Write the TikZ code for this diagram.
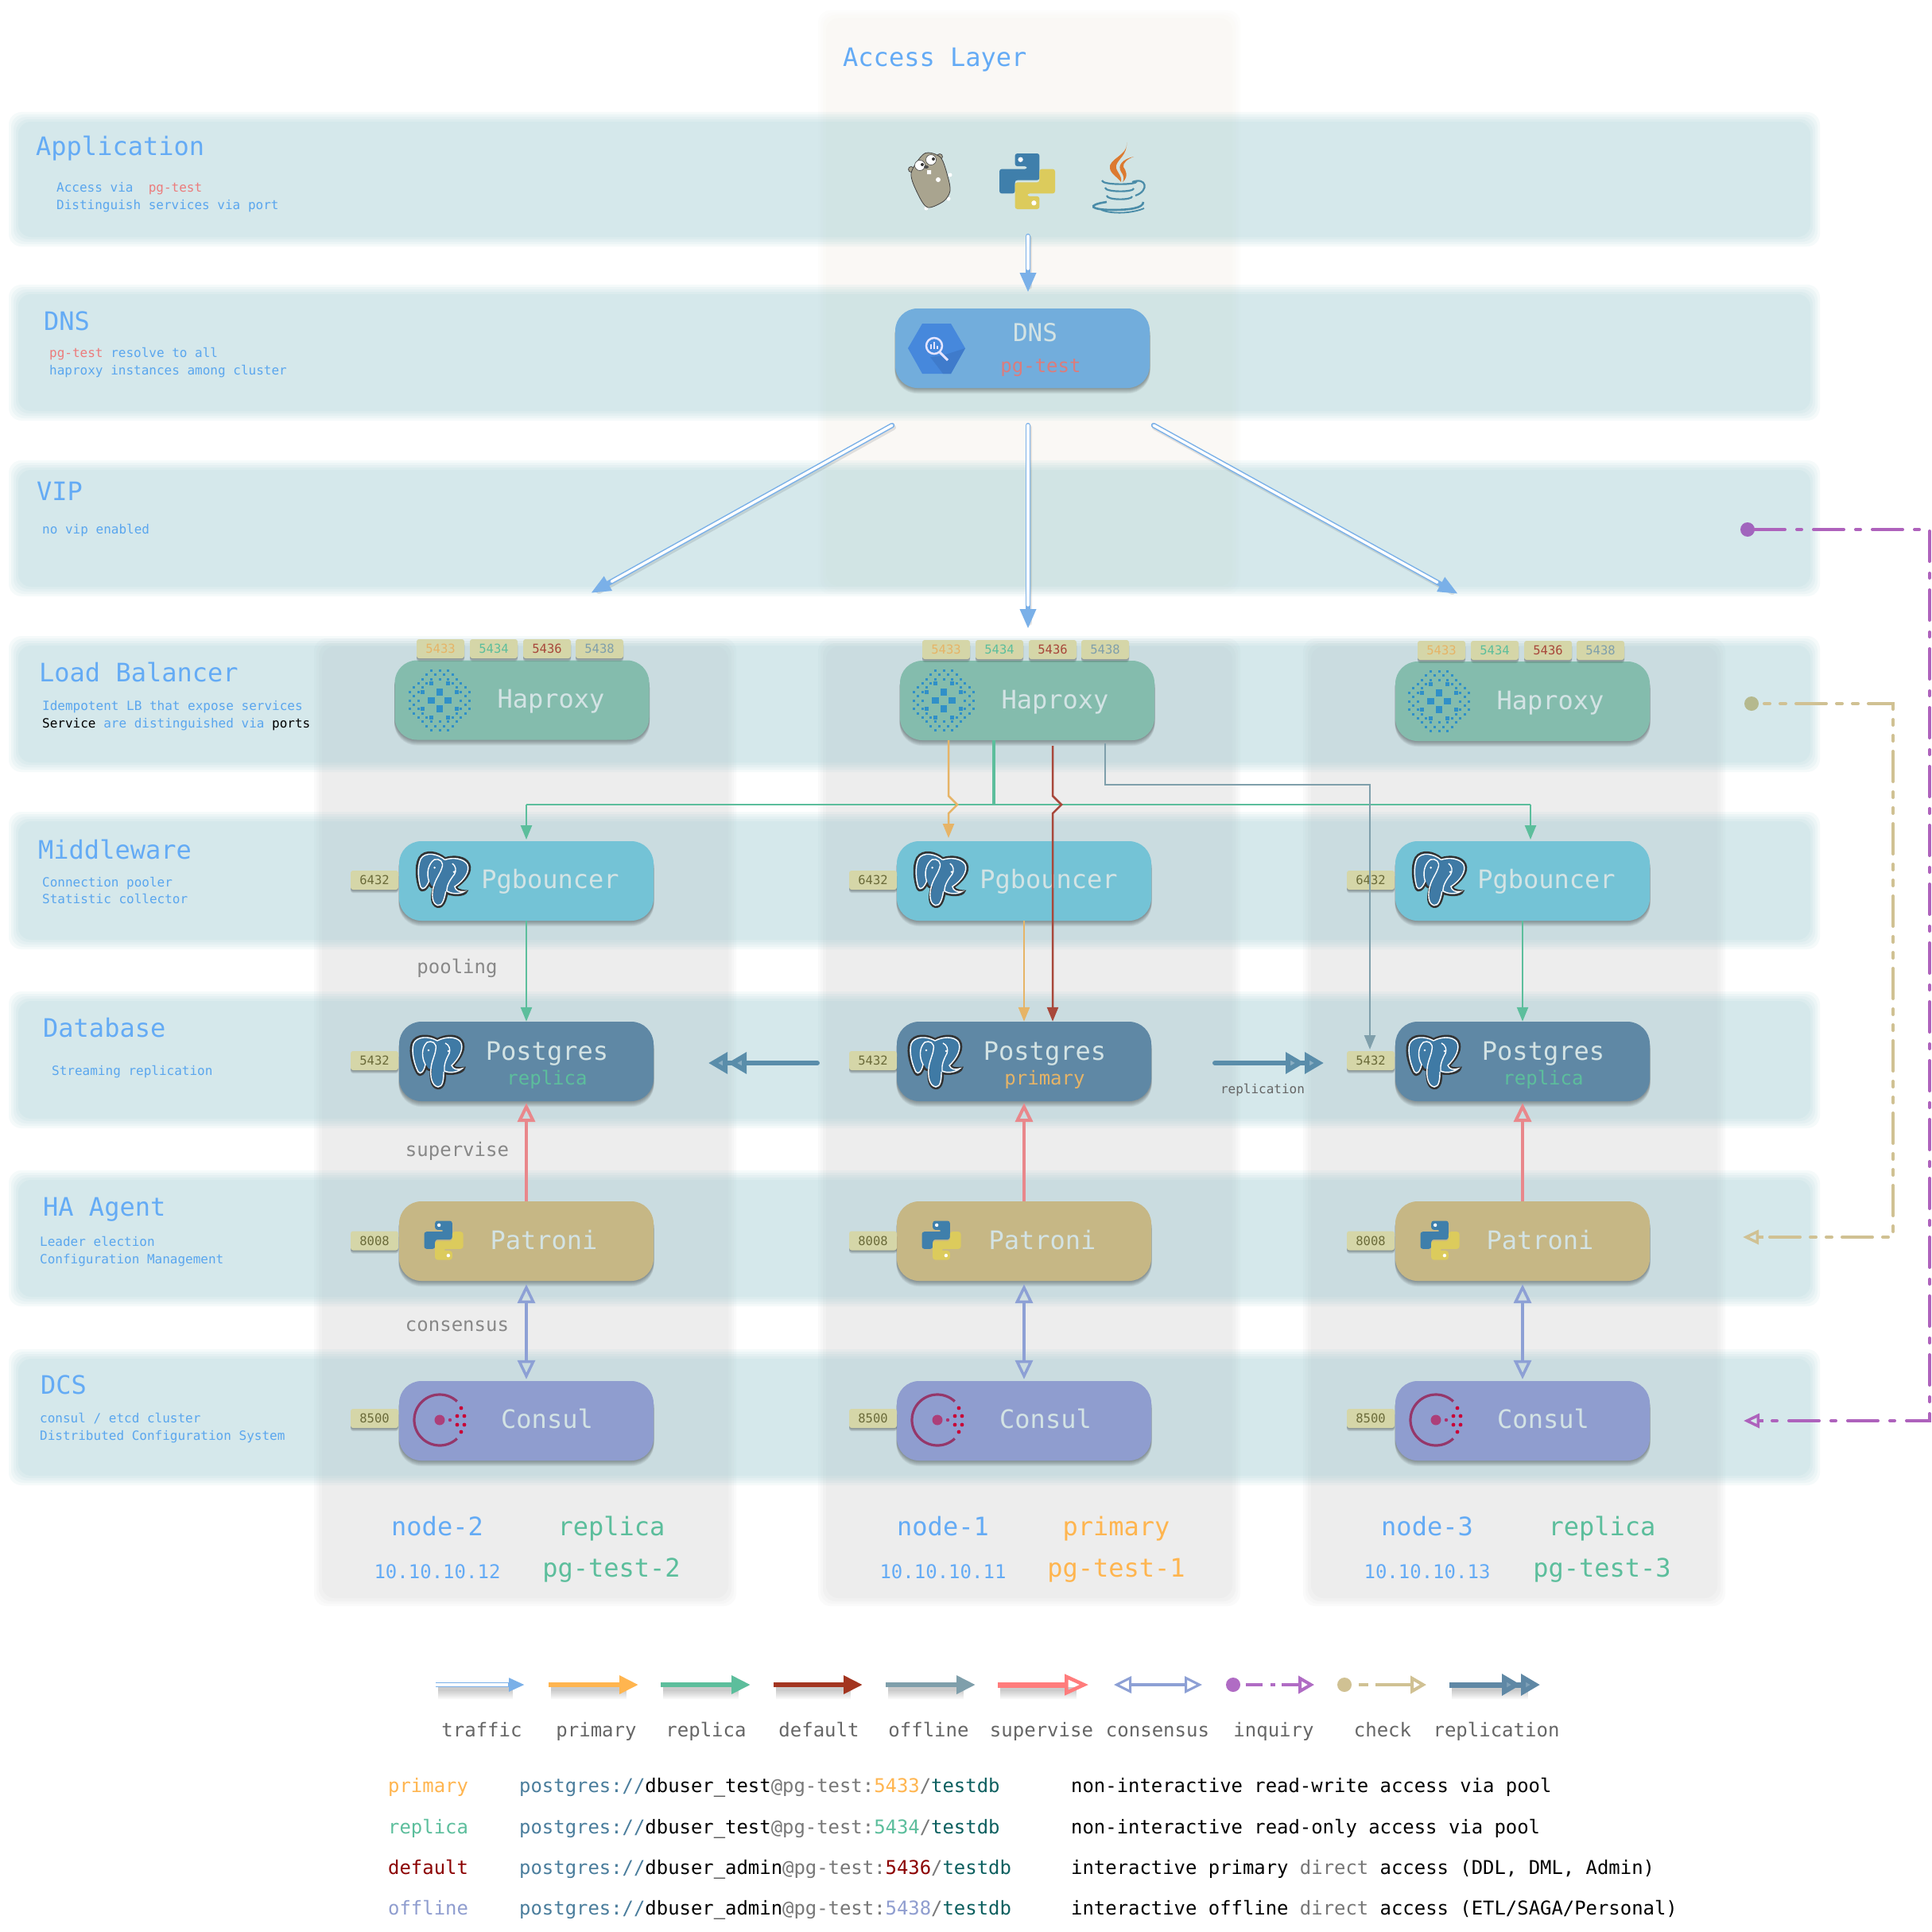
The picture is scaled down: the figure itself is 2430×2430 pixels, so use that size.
\documentclass[tikz,border=0pt]{standalone}
\usepackage{fontspec}
\setmainfont{DejaVu Sans Mono}
\usetikzlibrary{arrows.meta,calc}
\definecolor{tblue}{HTML}{64ABF5}
\definecolor{subblue}{HTML}{5AA6EE}
\definecolor{redtx}{HTML}{EC7C7C}
\definecolor{bandc}{HTML}{91C6CE}
\definecolor{dnsc}{HTML}{72ADDC}
\definecolor{hexc}{HTML}{4688DC}
\definecolor{hexd}{HTML}{3F7BCB}
\definecolor{hapc}{HTML}{84BCAD}
\definecolor{pgbc}{HTML}{74C3D6}
\definecolor{pgc}{HTML}{5F88A5}
\definecolor{patc}{HTML}{C6B785}
\definecolor{conc}{HTML}{8F9DCF}
\definecolor{tagc}{HTML}{D5D6A8}
\definecolor{tagtx}{HTML}{6B6B3A}
\definecolor{nodetx}{HTML}{D3E3E4}
\definecolor{prim}{HTML}{E6B467}
\definecolor{primL}{HTML}{FFB54F}
\definecolor{repl}{HTML}{5CBE9C}
\definecolor{defl}{HTML}{A8473A}
\definecolor{deflL}{HTML}{A33520}
\definecolor{offl}{HTML}{7F9FAB}
\definecolor{superc}{HTML}{E9878B}
\definecolor{superL}{HTML}{FF7C7C}
\definecolor{consc}{HTML}{8DA0D5}
\definecolor{inq}{HTML}{AE62BC}
\definecolor{inqdot}{HTML}{A165BD}
\definecolor{inqL}{HTML}{B06CC4}
\definecolor{chk}{HTML}{D0C193}
\definecolor{chkdot}{HTML}{B5B98E}
\definecolor{repc}{HTML}{5A8DAA}
\definecolor{repL}{HTML}{5F88A5}
\definecolor{trafc}{HTML}{7AB0E8}
\definecolor{greytx}{HTML}{888888}
\definecolor{legtx}{HTML}{666666}
\definecolor{uric}{HTML}{4A7D9C}
\definecolor{dbc}{HTML}{0C5F5F}
\definecolor{urigrey}{HTML}{777777}
\definecolor{darkred}{HTML}{8B0000}
\definecolor{elef}{HTML}{3F7AA5}
\definecolor{pyb}{HTML}{3F7FAB}
\definecolor{pyy}{HTML}{DCCB5C}
\definecolor{haplogo}{HTML}{3090C8}
\definecolor{gopher}{HTML}{A9A48F}
\definecolor{javao}{HTML}{DC7A30}
\definecolor{javab}{HTML}{4A8CA8}
\newcommand\tx[7]{\pgfmathsetmacro\thh{.72*#4}\pgfmathsetmacro\tdd{.2*#4}%
  \node[inner sep=0pt,anchor=#6,text=#5,font=\fontsize{#4}{#4}\selectfont,text height=\thh pt,text depth=\tdd pt] (#1) at (#2,#3+.1*#4) {#7};}
\newcommand\svc[4]{% name cx cy color
  \foreach \k in {1,...,7}{\fill[black,opacity=.05,rounded corners=28pt] (#2-160-.5,#3-44) rectangle (#2+160+.5,#3+50+\k);}
  \node[svcbox,fill=#4] (#1) at (#2,#3) {};}
\newcommand\tagb[5]{% name cx cy textcolor text
  \foreach \k in {1,2,3,4}{\fill[black,opacity=.09,rounded corners=3pt] (#2-30,#3-8) rectangle (#2+30,#3+12+\k);}
  \node[tagbox,text=#4] (#1) at (#2,#3) {#5};}
\newcommand\softrect[6]{% x1 y1 x2 y2 colour opacity
  \foreach \k in {0,...,4}{\fill[fill=#5,fill opacity=#6,rounded corners=16pt] (#1-5+\k*3,#2-5+\k*3) rectangle (#3+5-\k*3,#4+5-\k*3);}}
\newcommand\softopaque[8]{% x1 y1 x2 y2 then four colours, outer to inner
  \fill[fill=#5,rounded corners=16pt] (#1-5,#2-5) rectangle (#3+5,#4+5);
  \fill[fill=#6,rounded corners=16pt] (#1-2,#2-2) rectangle (#3+2,#4+2);
  \fill[fill=#7,rounded corners=16pt] (#1+1,#2+1) rectangle (#3-1,#4-1);
  \fill[fill=#8,rounded corners=16pt] (#1+5,#2+5) rectangle (#3-5,#4-5);}
\definecolor{ac1}{HTML}{FDFDFC}
\definecolor{ac2}{HTML}{FCFBFA}
\definecolor{ac3}{HTML}{FBFAF7}
\definecolor{ac4}{HTML}{FAF8F5}
\definecolor{cc1}{HTML}{FAFAFA}
\definecolor{cc2}{HTML}{F6F6F6}
\definecolor{cc3}{HTML}{F1F1F1}
\definecolor{cc4}{HTML}{EDEDED}
\tikzset{
  svcbox/.style={rectangle,rounded corners=28pt,minimum width=320pt,minimum height=100pt,inner sep=0pt},
  tagbox/.style={rectangle,rounded corners=3pt,fill=tagc,minimum width=60pt,minimum height=24pt,inner sep=0pt,font=\fontsize{15.5}{16}\selectfont},
  trafbase/.style={draw=trafc,line width=6.5pt,line cap=round,-{Triangle[length=25pt,width=19pt]}},
  trafcore/.style={draw=white,line width=3.5pt,line cap=round},
  trafshade/.style={draw=black,opacity=.10,line width=7pt,line cap=round},
  primline/.style={draw=prim,line width=2.5pt,-{Triangle[length=18pt,width=14pt]}},
  replline/.style={draw=repl,line width=2.5pt,-{Triangle[length=18pt,width=14pt]}},
  deflline/.style={draw=defl,line width=2.5pt,-{Triangle[length=18pt,width=14pt]}},
  offline/.style={draw=offl,line width=2.5pt,-{Triangle[length=18pt,width=14pt]}},
  supline/.style={draw=superc,line width=4.5pt,-{Triangle[open,length=24pt,width=22pt,line width=4pt]}},
  conline/.style={draw=consc,line width=4pt,{Triangle[open,length=24pt,width=22pt,line width=3.5pt]}-{Triangle[open,length=24pt,width=22pt,line width=3.5pt]}},
  repline/.style={draw=repc,line width=6pt,line cap=round,-{Triangle[length=24pt,width=26pt,fill=repc!70!white]Triangle[length=24pt,width=26pt,fill=repc!70!white]}},
  inqline/.style={draw=inq,line width=4pt,line cap=round,dash pattern=on 38pt off 15pt on 6pt off 15pt},
  chkline/.style={draw=chk,line width=4pt,line cap=round,dash pattern=on 7pt off 13pt on 7pt off 13pt on 38pt off 13pt},
  pgele/.pic={
    \begin{scope}[shift={(-35,-35)}]
    \filldraw[fill=elef,draw=black!80,line width=2.5pt] (35,7) .. controls (25,1) and (8,0) .. (3,12) .. controls (-1,24) and (5,42) .. (10,50) .. controls (14,55) and (19,50) .. (21,42) .. controls (23,46) and (25,46) .. (27,46) .. controls (26,56) and (27,68) .. (36,69) .. controls (44,69) and (45,58) .. (45,50) .. controls (52,52) and (68,50) .. (69,43) .. controls (60,44) and (56,43) .. (55,40) .. controls (64,32) and (72,18) .. (66,9) .. controls (60,0) and (44,2) .. (35,7) -- cycle;
    \draw[white,line width=1.4pt] (35,9) .. controls (25,3) and (9,3) .. (5,13) .. controls (2,24) and (7,41) .. (11,48) .. controls (14,52) and (18,48) .. (20,39) .. controls (15,30) and (15,18) .. (22,11) .. controls (28,8) and (35,12) .. (33,20) .. controls (32,28) and (28,34) .. (27,44) .. controls (26,54) and (28,66) .. (36,67) .. controls (42,67) and (43,58) .. (43,48);
    \draw[white,line width=1.4pt] (35,9) .. controls (44,4) and (58,3) .. (64,10) .. controls (69,18) and (63,31) .. (53,40) .. controls (55,45) and (60,46) .. (66,44) .. controls (60,49) and (50,50) .. (44,47) .. controls (43,40) and (46,32) .. (50,25) .. controls (52,20) and (50,14) .. (45,12);
    \fill[white] (24,21) circle[radius=1.4] (49,22) circle[radius=1.4];
    \end{scope}},
  pyl/.pic={
    \begin{scope}[shift={(-50,-50)}]
    \fill[pyb,rounded corners=3pt] (28,0) -- (72,0) -- (72,48) -- (28,48) -- (28,72) -- (0,72) -- (0,28) -- (50,28) -- (50,23) -- (28,23) -- cycle;
    \fill[pyy,rounded corners=3pt] (72,100) -- (28,100) -- (28,52) -- (72,52) -- (72,28) -- (100,28) -- (100,72) -- (50,72) -- (50,77) -- (72,77) -- cycle;
    \fill[white] (38,11) circle[radius=4.5] (62,89) circle[radius=4.5];
    \end{scope}},
  haplg/.pic={
    \foreach \i in {-8,...,8}{\foreach \j in {-8,...,8}{
      \pgfmathsetmacro\rr{sqrt(\i*\i+\j*\j)*5.35}
      \pgfmathsetmacro\sz{\rr<25 ? ((mod(abs(\i),2)==0 && mod(abs(\j),2)==0 && mod(abs(\i+\j),4)==2) ? (\rr<11 ? 8.5 : 5.5) : 0) : ((\rr<=41 && mod(abs(\i+\j),2)==1) ? 3 : 0)}
      \ifdim\sz pt>0pt
        \fill[haplogo] ({\i*5.35-\sz/2},{\j*5.35-\sz/2}) rectangle ++(\sz,\sz);
      \fi
    }}},
  conlg/.pic={
    \draw[line width=3.2pt,draw=black!20!purple!65!conc] (47:32) arc[start angle=47,end angle=313,radius=32];
    \fill[purple!60!conc] (0,0) circle[radius=6.5];
    \fill[purple!70!conc] (13,0) circle[radius=2.2];
    \foreach \a/\b in {27/-15,22/-5,31/-5,22/6,31/6,27/15}{\fill[purple!85!red] (\a,\b) circle[radius=2.4];}
  },
}
\begin{document}
\begin{tikzpicture}[x=1pt,y=-1pt]
\useasboundingbox (0,0) rectangle (2430,2430);
\fill[white] (0,0) rectangle (2430,2430);
% backgrounds
\softopaque{1034}{18}{1555}{742}{ac1}{ac2}{ac3}{ac4}
\softopaque{400}{808}{921}{2015}{cc1}{cc2}{cc3}{cc4}
\softopaque{1034}{808}{1555}{2015}{cc1}{cc2}{cc3}{cc4}
\softopaque{1644}{808}{2165}{2015}{cc1}{cc2}{cc3}{cc4}
\foreach \a/\b in {146/305,363/524,584/745,805/966,1026/1189,1252/1414,1477/1638,1702/1863}{\softrect{16}{\a}{2284}{\b}{bandc}{.085}}
% band titles
\tx{tAccess}{1060}{72}{32}{tblue}{west}{Access Layer}
\tx{tApp}{45}{184}{32}{tblue}{west}{Application}
\tx{tDns}{55}{404}{32}{tblue}{west}{DNS}
\tx{tVip}{46}{618}{32}{tblue}{west}{VIP}
\tx{tLb}{49}{846}{32}{tblue}{west}{Load Balancer}
\tx{tMw}{48}{1069}{32}{tblue}{west}{Middleware}
\tx{tDb}{54}{1293}{32}{tblue}{west}{Database}
\tx{tHa}{54}{1518}{32}{tblue}{west}{HA Agent}
\tx{tDcs}{51}{1742}{32}{tblue}{west}{DCS}
% band descriptions
\tx{sA1}{71}{236}{16}{subblue}{west}{Access via\ \ \textcolor{redtx}{pg-test}}
\tx{sA2}{71}{258}{16}{subblue}{west}{Distinguish services via port}
\tx{sD1}{62}{444}{16}{subblue}{west}{\textcolor{redtx}{pg-test} resolve to all}
\tx{sD2}{62}{466}{16}{subblue}{west}{haproxy instances among cluster}
\tx{sV}{53}{666}{16}{subblue}{west}{no vip enabled}
\tx{sL1}{53}{888}{16}{subblue}{west}{Idempotent LB that expose services}
\tx{sL2}{53}{910}{16}{subblue}{west}{\textcolor{black}{Service} are distinguished via \textcolor{black}{ports}}
\tx{sM1}{53}{1110}{16}{subblue}{west}{Connection pooler}
\tx{sM2}{53}{1131}{16}{subblue}{west}{Statistic collector}
\tx{sB}{65}{1347}{16}{subblue}{west}{Streaming replication}
\tx{sH1}{50}{1562}{16}{subblue}{west}{Leader election}
\tx{sH2}{50}{1584}{16}{subblue}{west}{Configuration Management}
\tx{sC1}{50}{1784}{16}{subblue}{west}{consul / etcd cluster}
\tx{sC2}{50}{1806}{16}{subblue}{west}{Distributed Configuration System}
% application icons
\begin{scope}
  \filldraw[fill=gopher,draw=black!70,line width=.8pt] (1146,213) circle[radius=3.5] (1182,197) circle[radius=3.5];
  \fill[white] (1165,262) circle[radius=2.5] (1193,250) circle[radius=2.5] (1195,220) circle[radius=2.5];
  \filldraw[fill=gopher,draw=black!75,line width=.8pt] plot[smooth cycle] coordinates {(1163,193) (1183,198) (1192,222) (1195,240) (1187,253) (1167,261) (1155,245) (1146,218)};
  \filldraw[fill=white,draw=black!70,line width=.6pt] (1157,208) circle[radius=6.5] (1171,201) circle[radius=6.5];
  \fill[black!80] (1160,207) circle[radius=2] (1174,200) circle[radius=2];
  \fill[black!70] (1165,210) ellipse[x radius=3,y radius=2];
  \fill[white] (1166,214) rectangle (1171,219) (1180,226) circle[radius=3];
  \pic[scale=.7] at (1292,228) {pyl};
\end{scope}
\begin{scope}
  \path[fill=javao] (1417,179) .. controls (1420,195) and (1393,200) .. (1396,212) .. controls (1398,220) and (1405,222) .. (1410,229) .. controls (1412,220) and (1402,215) .. (1404,208) .. controls (1406,200) and (1418,195) .. (1417,179) -- cycle;
  \path[fill=javao] (1426,197) .. controls (1412,200) and (1405,208) .. (1410,216) .. controls (1414,222) and (1414,225) .. (1412,229) .. controls (1420,222) and (1416,214) .. (1413,210) .. controls (1412,205) and (1418,200) .. (1426,197) -- cycle;
  \foreach \yy/\hw in {227/22,236/18,246/16}{\draw[draw=javab,line width=2.2pt] (1408-\hw,\yy) .. controls (1408-\hw,\yy+6) and (1408+\hw,\yy+6) .. (1408+\hw,\yy+1);}
  \draw[draw=javab,line width=2.6pt] (1392,254) .. controls (1365,258) and (1372,264) .. (1400,264) .. controls (1420,264) and (1438,262) .. (1438,254);
  \draw[draw=javab,line width=1.8pt] (1385,264) .. controls (1400,270) and (1425,268) .. (1439,262);
  \draw[draw=javab,line width=2.2pt] (1424,229) .. controls (1442,222) and (1446,240) .. (1428,246);
\end{scope}
% DNS
\svc{dns}{1286}{438}{dnsc}
\fill[hexc] (1142,438) -- (1160,407) -- (1196,407) -- (1214,438) -- (1196,470) -- (1160,470) -- cycle;
\fill[hexd] (1186,447) -- (1214,438) -- (1196,470) -- (1186,470) -- (1170,449) -- cycle;
\draw[white!90!blue,line width=2.5pt] (1175,435) circle[radius=10];
\draw[white!90!blue,line width=3pt] (1182,443) -- (1192,453);
\draw[white!90!blue,line width=1.6pt] (1171,439) -- (1171,433) (1175,439) -- (1175,430) (1179,439) -- (1179,435);
\tx{dnsL}{1302}{418}{31}{nodetx}{center}{DNS}
\tx{dnsS}{1309}{460}{24}{redtx!85!gray}{center}{pg-test}
% Haproxy
\foreach \nm/\cx/\cy in {hap2/656.5/880.5,hap1/1292/881,hap3/1915/882}{\svc{\nm}{\cx}{\cy}{hapc}}
\foreach \cx/\cy in {553/881,1187/881,1810/882}{\pic at (\cx,\cy) {haplg};}
\foreach \nm/\cx/\cy in {hap2/693/879,hap1/1327/880,hap3/1950/881}{\tx{\nm L}{\cx}{\cy}{32}{nodetx}{center}{Haproxy}}
\foreach \nm/\ox/\oy in {hap2/-636/-1,hap1/0/0,hap3/623/1}{
 \tagb{\nm a}{1190+\ox}{817+\oy}{prim}{5433}
 \tagb{\nm b}{1257+\ox}{817+\oy}{repl}{5434}
 \tagb{\nm c}{1324+\ox}{817+\oy}{defl}{5436}
 \tagb{\nm d}{1390+\ox}{817+\oy}{offl}{5438}
}
% Pgbouncer
\foreach \nm/\cx in {pgb2/662,pgb1/1288,pgb3/1915}{\svc{\nm}{\cx}{1108}{pgbc}}
\foreach \cx in {555,1181,1808}{\pic[rotate=-10] at (\cx,1107) {pgele};}
\foreach \nm/\cx in {pgb2/692,pgb1/1319,pgb3/1945}{\tx{\nm L}{\cx}{1106}{32}{nodetx}{center}{Pgbouncer}}
\foreach \nm/\cx in {pgb2/471,pgb1/1098,pgb3/1724}{\tagb{\nm t}{\cx}{1107}{tagtx}{6432}}
% Postgres
\foreach \nm/\cx in {pg2/662,pg1/1288,pg3/1915}{\svc{\nm}{\cx}{1335}{pgc}}
\foreach \cx in {550,1176,1803}{\pic at (\cx,1335) {pgele};}
\foreach \nm/\cx in {pg2/688,pg1/1314,pg3/1941}{\tx{\nm L}{\cx}{1322}{32}{nodetx}{center}{Postgres}}
\tx{pg2S}{688}{1356}{24}{repl}{center}{replica}
\tx{pg1S}{1314}{1356}{24}{prim}{center}{primary}
\tx{pg3S}{1941}{1356}{24}{repl}{center}{replica}
\foreach \nm/\cx in {pg2/471,pg1/1098,pg3/1724}{\tagb{\nm t}{\cx}{1334}{tagtx}{5432}}
% Patroni
\foreach \nm/\cx in {pat2/662,pat1/1288,pat3/1915}{\svc{\nm}{\cx}{1561}{patc}}
\foreach \cx in {558,1184,1811}{\pic[scale=.49] at (\cx,1560) {pyl};}
\foreach \nm/\cx in {pat2/684,pat1/1311,pat3/1937}{\tx{\nm L}{\cx}{1560}{32}{nodetx}{center}{Patroni}}
\foreach \nm/\cx in {pat2/471,pat1/1098,pat3/1724}{\tagb{\nm t}{\cx}{1560.5}{tagtx}{8008}}
% Consul
\foreach \nm/\cx in {con2/662,con1/1288,con3/1915}{\svc{\nm}{\cx}{1787}{conc}}
\foreach \cx in {553,1179,1806}{\pic at (\cx,1786) {conlg};}
\foreach \nm/\cx in {con2/688,con1/1315,con3/1941}{\tx{\nm L}{\cx}{1785}{32}{nodetx}{center}{Consul}}
\foreach \nm/\cx in {con2/471,con1/1098,con3/1724}{\tagb{\nm t}{\cx}{1784}{tagtx}{8500}}
% traffic arrows
\coordinate (appOut) at (1293,297);
\coordinate (dnsIn) at (1293,368);
\coordinate (dnsOutC) at (1293,535);
\coordinate (vipC) at (1293,791);
\coordinate (dnsOutL) at (1122,535);
\coordinate (vipL) at (743,746);
\coordinate (dnsOutR) at (1451,535);
\coordinate (vipR) at (1834,747);
\foreach \a/\b in {appOut/dnsIn,dnsOutC/vipC,dnsOutL/vipL,dnsOutR/vipR}{
  \draw[trafshade,transform canvas={xshift=1.5pt,yshift=-2.5pt},shorten >=10pt] (\a) -- (\b);
  \draw[trafbase] (\a) -- (\b);
  \draw[trafcore,shorten >=30pt] (\a) -- (\b);
}
% load balancer routing
\coordinate (busT) at (1250,931);
\coordinate (busB) at (1250,1012);
\coordinate (busL) at (662,1012);
\coordinate (busR) at (1925,1012);
\draw[draw=repl,line width=4.5pt] (busT) -- (busB);
\draw[draw=repl,line width=2.5pt] (busL) -- (busR);
\draw[replline] (busL) -- (662,1056);
\draw[replline] (busR) -- (1925,1056);
\draw[replline] (pgb2.south) -- (pg2.north);
\draw[replline] (pgb3.south) -- (pg3.north);
\draw[primline] (pgb1.south) -- (pg1.north);
\coordinate (jpA) at (1193,931);
\coordinate (jdA) at (1324,938);
\coordinate (ofA) at (1390,935);
\coordinate (ofB) at (1723,1320);
\draw[primline] (jpA) -- (1193,1001) -- (1204,1012) -- (1193,1023) -- (1193,1054);
\draw[deflline] (jdA) -- (1324,1001) -- (1335,1012) -- (1324,1023) -- (pg1.north -| jdA);
\draw[offline] (ofA) -- (1390,987) -- (1723,987) -- (ofB);
% supervise and consensus
\foreach \i in {2,1,3}{
  \draw[supline,shorten >=2pt] (pat\i.north) -- (pg\i.south);
  \draw[conline,shorten >=2pt,shorten <=4pt] (pat\i.south) -- (con\i.north);
}
\tx{lPool}{575}{1216}{24}{greytx}{center}{pooling}
\tx{lSup}{575}{1446}{24}{greytx}{center}{supervise}
\tx{lCons}{575}{1666}{24}{greytx}{center}{consensus}
% replication
\coordinate (repA) at (1528,1337);
\coordinate (repB) at (1665,1337);
\coordinate (repC) at (1028,1337);
\coordinate (repD) at (891,1337);
\draw[repline] (repA) -- (repB);
\draw[repline] (repC) -- (repD);
\tx{lRep}{1588}{1370}{16}{legtx}{center}{replication}
% inquiry and check
\coordinate (inqS) at (2198,666);
\coordinate (inqT) at (2193,1787);
\coordinate (chkS) at (2203,885);
\coordinate (chkT) at (2192,1556);
\fill[inqdot] (inqS) circle[radius=9];
\draw[inqline] (2207,666) -- (2427,666) -- (2427,1787) -- (2218,1787);
\draw[inq,line width=3.5pt,-{Triangle[open,length=20pt,width=18pt]}] (2218,1787) -- (inqT);
\fill[chkdot] (chkS) circle[radius=9];
\draw[chkline] (2219,885) -- (2381,885) -- (2381,1556) -- (2218,1556);
\draw[chk,line width=3.5pt,-{Triangle[open,length=20pt,width=18pt]}] (2218,1556) -- (chkT);
% node labels under the columns
\tx{n2}{550}{1920}{32}{tblue}{center}{node-2}
\tx{r2}{769}{1920}{32}{repl}{center}{replica}
\tx{ip2}{550}{1977}{24}{tblue}{center}{10.10.10.12}
\tx{h2}{769}{1972}{32}{repl}{center}{pg-test-2}
\tx{n1}{1186}{1920}{32}{tblue}{center}{node-1}
\tx{r1}{1404}{1920}{32}{primL}{center}{primary}
\tx{ip1}{1186}{1977}{24}{tblue}{center}{10.10.10.11}
\tx{h1}{1404}{1972}{32}{primL}{center}{pg-test-1}
\tx{n3}{1795}{1920}{32}{tblue}{center}{node-3}
\tx{r3}{2015}{1920}{32}{repl}{center}{replica}
\tx{ip3}{1795}{1977}{24}{tblue}{center}{10.10.10.13}
\tx{h3}{2015}{1972}{32}{repl}{center}{pg-test-3}
% legend
\foreach \a/\b in {548/660,690/803,831/944,973/1085,1114/1227,1255/1369,1823/1937}{\foreach \k in {1,...,6}{\fill[black,opacity=.035] (\a+3,2122) rectangle (\b-15,2125+\k*2);}}
\coordinate (k1a) at (548,2119);\coordinate (k1b) at (660,2119);
\draw[draw=trafc,line width=6pt,-{Triangle[length=20pt,width=16pt]}] (k1a) -- (k1b);
\draw[trafcore,shorten >=21pt,line cap=butt] (k1a) -- (k1b);
\foreach \n/\a/\b/\c in {2/690/803/primL,3/831/944/repl,4/973/1085/deflL,5/1114/1227/offl}{
  \coordinate (k\n a) at (\a,2119);\coordinate (k\n b) at (\b,2119);
  \draw[draw=\c,line width=6pt,-{Triangle[length=24pt,width=22pt]}] (k\n a) -- (k\n b);
}
\coordinate (k6a) at (1255,2119);\coordinate (k6b) at (1369,2119);
\draw[draw=superL,line width=7pt,-{Triangle[open,length=30pt,width=26pt,line width=4.5pt]}] (k6a) -- (k6b);
\coordinate (k7a) at (1401,2119);\coordinate (k7b) at (1512,2119);
\draw[draw=consc,line width=4.5pt,{Triangle[open,length=22pt,width=21pt,line width=3pt]}-{Triangle[open,length=22pt,width=21pt,line width=3pt]}] (k7a) -- (k7b);
\coordinate (k8a) at (1551,2119);\coordinate (k8b) at (1653,2119);
\fill[inqL] (k8a) circle[radius=9];
\draw[draw=inqL,line width=4.5pt] (1567,2119) -- (1588,2119) (1598,2119) -- (1604,2119);
\draw[draw=inqL,line width=4pt,-{Triangle[open,length=20pt,width=22pt]}] (1612,2119) -- (k8b);
\coordinate (k9a) at (1691,2119);\coordinate (k9b) at (1794,2119);
\fill[chk] (k9a) circle[radius=9];
\draw[draw=chk,line width=4.5pt] (1709,2119) -- (1721,2119);
\draw[draw=chk,line width=4pt,-{Triangle[open,length=20pt,width=22pt]}] (1730,2119) -- (k9b);
\coordinate (k10a) at (1823,2119);\coordinate (k10b) at (1937,2119);
\draw[draw=repL,line width=7pt,-{Triangle[length=24pt,width=26pt,fill=repL!80!white]Triangle[length=24pt,width=26pt,fill=repL!80!white]}] (k10a) -- (k10b);
\foreach \n/\x/\t in {a/606/traffic,b/750/primary,c/888/replica,d/1030/default,e/1168/offline,f/1310/supervise,g/1456/consensus,h/1602/inquiry,i/1739/check,j/1882/replication}{\tx{leg\n}{\x}{2176}{24}{legtx}{center}{\t}}
% connection strings
\newcommand\uri[3]{\textcolor{uric}{postgres://}\textcolor{black}{#1}\textcolor{urigrey}{@pg-test:}\textcolor{#2}{#3}\textcolor{urigrey}{/}\textcolor{dbc}{testdb}}
\tx{c1a}{488}{2246}{23.9}{primL}{west}{primary}
\tx{c1b}{653}{2246}{23.9}{black}{west}{\uri{dbuser\_test}{primL}{5433}}
\tx{c1c}{1347}{2246}{23.9}{black}{west}{non-interactive read-write access via pool}
\tx{c2a}{488}{2298}{23.9}{repl}{west}{replica}
\tx{c2b}{653}{2298}{23.9}{black}{west}{\uri{dbuser\_test}{repl}{5434}}
\tx{c2c}{1347}{2298}{23.9}{black}{west}{non-interactive read-only access via pool}
\tx{c3a}{488}{2349}{23.9}{darkred}{west}{default}
\tx{c3b}{653}{2349}{23.9}{black}{west}{\uri{dbuser\_admin}{darkred}{5436}}
\tx{c3c}{1347}{2349}{23.9}{black}{west}{interactive primary \textcolor{urigrey}{direct} access (DDL, DML, Admin)}
\tx{c4a}{488}{2400}{23.9}{conc}{west}{offline}
\tx{c4b}{653}{2400}{23.9}{black}{west}{\uri{dbuser\_admin}{conc}{5438}}
\tx{c4c}{1347}{2400}{23.9}{black}{west}{interactive offline \textcolor{urigrey}{direct} access (ETL/SAGA/Personal)}
\end{tikzpicture}
\end{document}
